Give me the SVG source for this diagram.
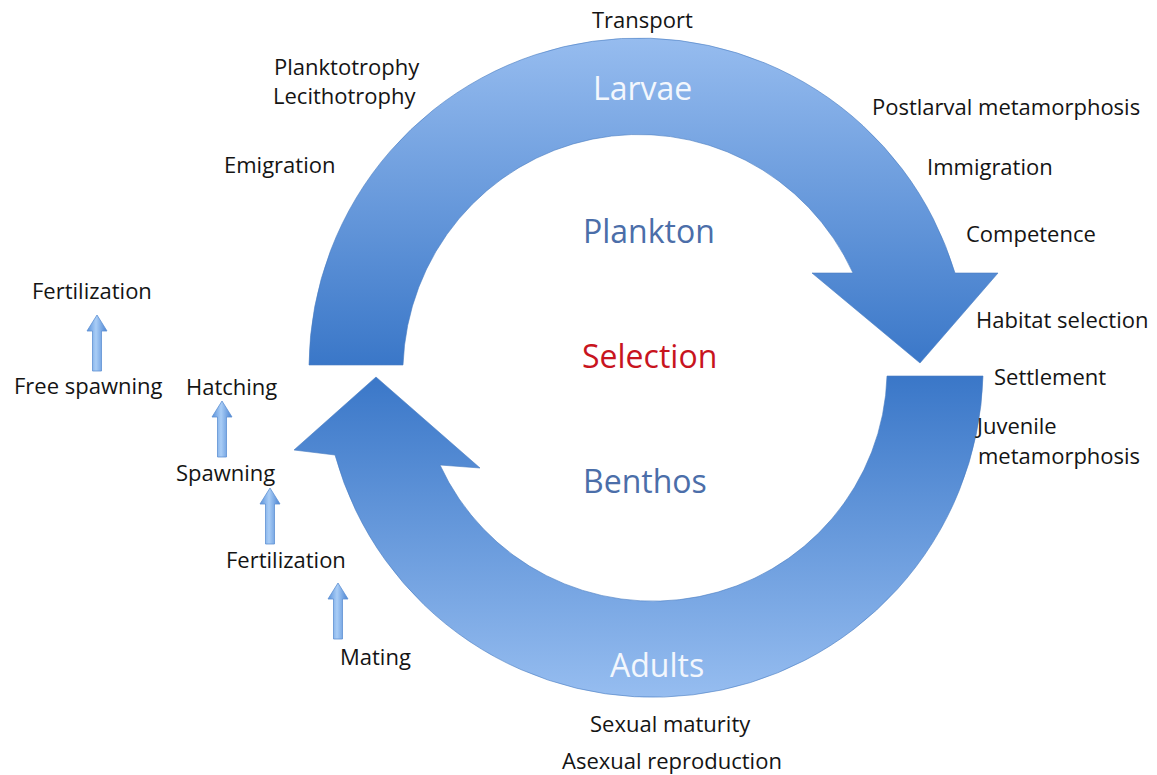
<svg xmlns="http://www.w3.org/2000/svg" xmlns:xlink="http://www.w3.org/1999/xlink" width="1157" height="775" viewBox="0 0 1157 775">
  <defs>
    <style>
      .lbl { font-family: "Open Sans", "Liberation Sans", sans-serif; font-size: 22px; fill: #141414; }
      .big { font-family: "Open Sans", "Liberation Sans", sans-serif; font-size: 32px; }
      .white { fill: #f3f7fd; }
      .blue { fill: #4b6ea9; }
      .red { fill: #c8141e; }
      .bigarrow { stroke: #4a7dc2; stroke-width: 1; stroke-opacity: 0.6; }
      .smallarrow { fill: url(#gSmall); stroke: #5e90d3; stroke-width: 0.8; }
    </style>
    <linearGradient id="gTop" x1="0" y1="0" x2="0" y2="1">
      <stop offset="0" stop-color="#96bcef"/>
      <stop offset="1" stop-color="#3a77c8"/>
    </linearGradient>
    <linearGradient id="gBottom" x1="0" y1="0" x2="0" y2="1">
      <stop offset="0" stop-color="#3a77c8"/>
      <stop offset="1" stop-color="#96bdf0"/>
    </linearGradient>
    <linearGradient id="gSmall" x1="0" y1="0" x2="1" y2="0">
      <stop offset="0" stop-color="#5a92db"/>
      <stop offset="0.45" stop-color="#a9cdf6"/>
      <stop offset="1" stop-color="#4a83d2"/>
    </linearGradient>
    <path id="sa" d="M0 0 L10 16 L4.5 16 L4.5 56 L-4.5 56 L-4.5 16 L-10 16 Z"/>
  </defs>

  <rect x="0" y="0" width="1157" height="775" fill="#ffffff"/>

  <g id="connectors">
    <path id="arrow-larvae" class="bigarrow" fill="url(#gTop)"
      d="M 309 365 A 330 330 0 0 1 955 273 L 998 273 L 920 363 L 812 273 L 853 273 A 236 239 0 0 0 403 365 Z"/>
    <path id="arrow-adults" class="bigarrow" fill="url(#gBottom)"
      d="M 983 376 A 330 330 0 0 1 335 455 L 294 450 L 376 377 L 480 468 L 440 465 A 234 232 0 0 0 887 376 Z"/>
    <use id="arrow-free-spawning" xlink:href="#sa" href="#sa" class="smallarrow" transform="translate(97 315)"/>
    <use id="arrow-hatching" xlink:href="#sa" href="#sa" class="smallarrow" transform="translate(222 401)"/>
    <use id="arrow-spawning" xlink:href="#sa" href="#sa" class="smallarrow" transform="translate(270 488)"/>
    <use id="arrow-mating" xlink:href="#sa" href="#sa" class="smallarrow" transform="translate(338 583)"/>
  </g>

  <g id="center-labels">
    <g id="n-larvae"><text class="big white" x="593" y="100">Larvae</text></g>
    <g id="n-plankton"><text class="big blue" x="583" y="243">Plankton</text></g>
    <g id="n-selection"><text class="big red" x="582" y="368">Selection</text></g>
    <g id="n-benthos"><text class="big blue" x="583" y="493">Benthos</text></g>
    <g id="n-adults"><text class="big white" x="610" y="677">Adults</text></g>
  </g>

  <g id="labels">
    <g id="n-transport"><text class="lbl" x="592" y="28">Transport</text></g>
    <g id="n-planktotrophy"><text class="lbl" x="274" y="75">Planktotrophy</text></g>
    <g id="n-lecithotrophy"><text class="lbl" x="273" y="104">Lecithotrophy</text></g>
    <g id="n-emigration"><text class="lbl" x="224" y="173">Emigration</text></g>
    <g id="n-postlarval"><text class="lbl" x="872" y="115">Postlarval metamorphosis</text></g>
    <g id="n-immigration"><text class="lbl" x="927" y="175">Immigration</text></g>
    <g id="n-competence"><text class="lbl" x="966" y="242">Competence</text></g>
    <g id="n-habitat"><text class="lbl" x="976" y="328">Habitat selection</text></g>
    <g id="n-settlement"><text class="lbl" x="994" y="385">Settlement</text></g>
    <g id="n-juvenile"><text class="lbl" x="977" y="434">Juvenile</text><text class="lbl" x="978" y="464">metamorphosis</text></g>
    <g id="n-sexual"><text class="lbl" x="590" y="732">Sexual maturity</text></g>
    <g id="n-asexual"><text class="lbl" x="562" y="769">Asexual reproduction</text></g>
    <g id="n-mating"><text class="lbl" x="340" y="665">Mating</text></g>
    <g id="n-fertilization2"><text class="lbl" x="226" y="568">Fertilization</text></g>
    <g id="n-spawning"><text class="lbl" x="176" y="481">Spawning</text></g>
    <g id="n-hatching"><text class="lbl" x="186" y="395">Hatching</text></g>
    <g id="n-free-spawning"><text class="lbl" x="14" y="394">Free spawning</text></g>
    <g id="n-fertilization1"><text class="lbl" x="32" y="299">Fertilization</text></g>
  </g>
</svg>
